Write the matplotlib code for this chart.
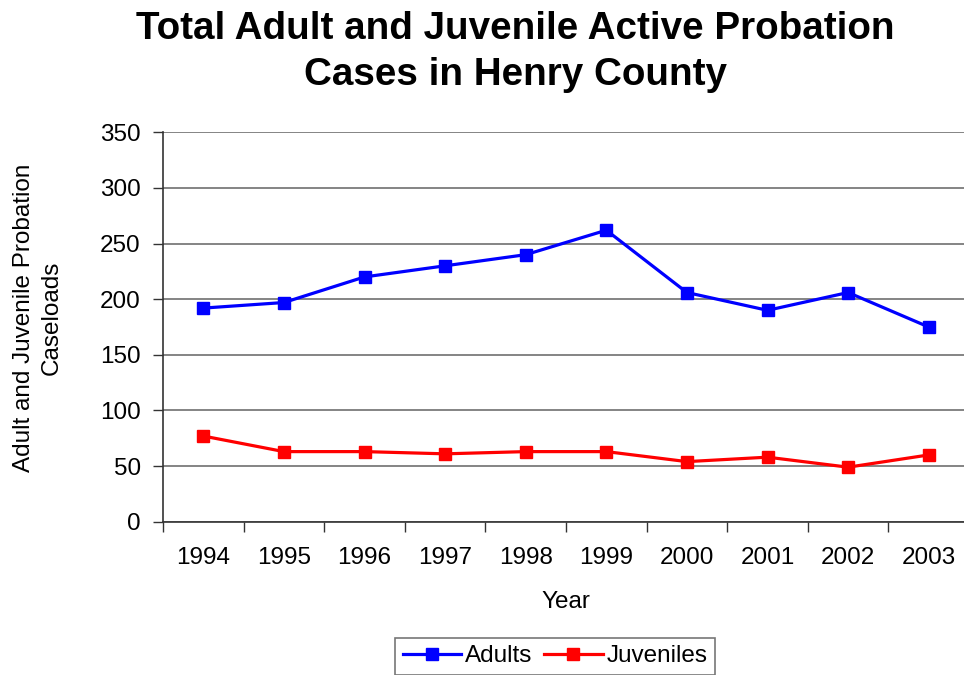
import matplotlib
matplotlib.use("Agg")
import matplotlib.pyplot as plt
import numpy as np

years = ["1994", "1995", "1996", "1997", "1998", "1999", "2000", "2001", "2002", "2003"]
adults = [192, 197, 220, 230, 240, 262, 206, 190, 206, 175]
juveniles = [77, 63, 63, 61, 63, 63, 54, 58, 49, 60]
y_ticks = [0, 50, 100, 150, 200, 250, 300, 350]

plt.rcParams["font.family"] = ["Liberation Sans", "DejaVu Sans"]

fig = plt.figure(figsize=(9.64, 6.75), dpi=100)
ax = fig.add_axes([163 / 964, 153.3 / 675, 806 / 964, 389.4 / 675])

x = np.arange(len(years))
ax.plot(x, adults, color="#0000FF", lw=2.3, marker="s", ms=8.5, label="Adults", clip_on=False, zorder=3)
ax.plot(x, juveniles, color="#FF0000", lw=2.3, marker="s", ms=8.5, label="Juveniles", clip_on=False, zorder=3)

ax.set_xlim(-0.5, len(years) - 0.5)
ax.set_ylim(0, 350)
ax.set_yticks(y_ticks)
ax.set_yticklabels([str(v) for v in y_ticks], fontsize=17.5)
ax.yaxis.grid(True, color="#707070", lw=1.2)
ax.set_axisbelow(True)

# category boundaries get tick marks, labels sit at the category centres
ax.set_xticks(np.arange(-0.5, len(years), 1.0))
ax.set_xticklabels([])
ax.set_xticks(x, minor=True)
ax.set_xticklabels(years, minor=True, fontsize=17.5)
ax.tick_params(axis="x", which="major", length=7, width=1, color="#333333")
ax.tick_params(axis="x", which="minor", length=0, pad=18)
ax.tick_params(axis="y", length=7, width=1, color="#333333", pad=9)

for s in ["top", "right"]:
    ax.spines[s].set_visible(False)
for s in ["left", "bottom"]:
    ax.spines[s].set_color("#333333")
    ax.spines[s].set_linewidth(1.2)

ax.set_xlabel("Year", fontsize=17.5, labelpad=16)
fig.text(38 / 964, 1 - 318 / 675, "Adult and Juvenile Probation\nCaseloads", rotation=90,
         ha="center", va="center", multialignment="center", fontsize=17.5, linespacing=1.3)

fig.text(515 / 964, 1 - 52 / 675, "Total Adult and Juvenile Active Probation\nCases in Henry County",
         ha="center", va="center", fontsize=27.8, fontweight="bold", linespacing=1.34)

leg = fig.legend(loc="upper center", bbox_to_anchor=(555 / 964, 1 - 638 / 675), ncol=2,
                 fontsize=17.5, frameon=True, fancybox=False, edgecolor="#555555",
                 handlelength=2.4, handletextpad=0.15, columnspacing=0.5, borderpad=0.3,
                 borderaxespad=0)
leg.get_frame().set_linewidth(1.2)

fig.savefig("out.png", dpi=100)
